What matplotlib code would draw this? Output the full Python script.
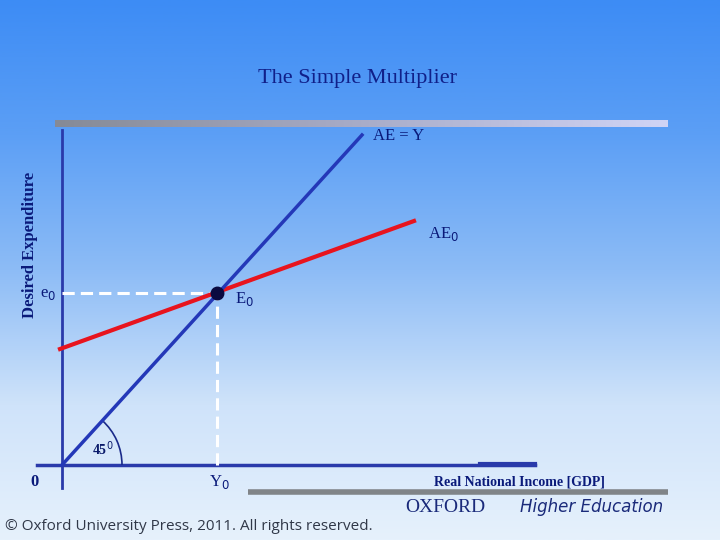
import numpy as np
import matplotlib.pyplot as plt
from matplotlib.colors import LinearSegmentedColormap
from matplotlib.patches import Arc

# data (drawing units, origin at the axes corner)
income_45 = [0, 300]
ae_45 = [0, 330]
income_ae0 = [-2, 352]
ae_ae0 = [116, 244]
y0, e0 = 155, 172

fig = plt.figure(figsize=(7.2, 5.4), dpi=100)
ax = fig.add_axes([0, 0, 1, 1])
ax.set_xlim(-62, 658)
ax.set_ylim(-75, 465)
ax.axis('off')

# background gradient (dark blue at top, pale at bottom)
bg = LinearSegmentedColormap.from_list('bg', ['#3d8cf5', '#5c9ff5', '#8dbcf6', '#cfe3fa', '#e6f1fc'])
grad = np.linspace(0, 1, 256).reshape(-1, 1)
ax.imshow(grad, cmap=bg, extent=[-62, 658, -75, 465], aspect='auto', zorder=0)

# top decorative bar
bar = LinearSegmentedColormap.from_list('bar', ['#858a96', '#a8acc8', '#d0d4f6'])
ax.imshow(np.linspace(0, 1, 256).reshape(1, -1), cmap=bar,
          extent=[-7, 606, 338, 345], aspect='auto', zorder=1)
# bottom gray bar
ax.plot([186, 606], [-27, -27], color='#808488', lw=4, solid_capstyle='butt', zorder=1)

ax.text(295, 387, 'The Simple Multiplier', ha='center', va='center',
        fontsize=16, family='Liberation Serif', color='#10208a')

# axes
ax.plot([0, 0], [-23, 335], color='#2a3aaa', lw=2, zorder=2)
ax.plot([-25, 473], [0, 0], color='#2a3aaa', lw=2.5, zorder=2)
ax.plot([418, 473], [1, 1], color='#2a3aaa', lw=3, zorder=2)

# dashed guides
ax.plot([0, y0], [e0, e0], color='white', lw=2.2, ls=(0, (4, 2)), zorder=2)
ax.plot([y0, y0], [0, e0], color='white', lw=2.2, ls=(0, (4, 2)), zorder=2)

# lines
ax.plot(income_ae0, ae_ae0, color='#e8141e', lw=3, zorder=3)
ax.plot(income_45, ae_45, color='#2438b8', lw=2.5, zorder=4)
ax.plot([y0], [e0], 'o', color='#0a0a40', ms=9, zorder=5)

ax.add_patch(Arc((0, 0), 120, 120, theta1=0, theta2=48, color='#1a2a8a', lw=1.2, zorder=3))
ax.text(30, 10, '45$^0$', fontsize=10, family='Liberation Serif', color='#0a1a6a', fontweight='bold')

serif = dict(family='Liberation Serif', color='#0a1a7a', fontsize=12, va='center')
ax.text(311, 329, 'AE = Y', **serif)
ax.text(366, 231, 'AE$_0$', **serif)
ax.text(173, 166, 'E$_0$', **serif)
ax.text(-22, 171, 'e$_0$', **serif)
ax.text(-32, -17, '0', fontweight='bold', **serif)
ax.text(147, -17, 'Y$_0$', **serif)
ax.text(372, -17, 'Real National Income [GDP]', fontweight='bold',
        family='Liberation Serif', color='#0a1a7a', fontsize=10, va='center')
ax.text(-32, 220, 'Desired Expenditure', rotation=90, ha='center', va='center',
        fontsize=12, family='Liberation Serif', color='#0a1a7a', fontweight='bold')

ax.text(343, -42, 'OXFORD', fontsize=14, family='Liberation Serif', color='#1a2a7a', va='center')
ax.text(458, -42, 'Higher Education', fontsize=12, style='italic', color='#1a2a7a', va='center')
ax.text(-57, -62, '© Oxford University Press, 2011. All rights reserved.',
        fontsize=11, color='#303848', family='Open Sans', va='center')

fig.savefig('out.png', dpi=100)
